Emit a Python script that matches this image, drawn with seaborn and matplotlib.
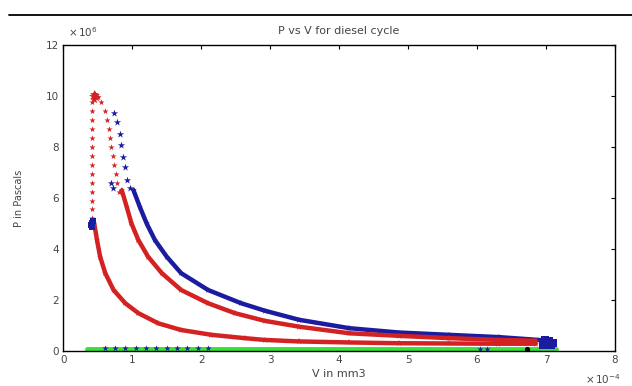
import matplotlib
matplotlib.use("Agg")
import matplotlib.pyplot as plt
import seaborn as sns

sns.set_style("white")
plt.rcParams['font.family'] = ['DejaVu Sans']

# ---- data (V in 1e-4 mm3 units, P in 1e6 Pa units) ----
red_comp_v = [0.45, 0.49, 0.535, 0.61, 0.73, 0.90, 1.09, 1.38, 1.71, 2.15, 2.63, 2.92, 3.42, 4.15, 4.87, 5.60, 6.30, 6.85]
red_comp_p = [5.00, 4.35, 3.70, 3.05, 2.39, 1.87, 1.48, 1.08, 0.82, 0.63, 0.50, 0.43, 0.37, 0.33, 0.30, 0.29, 0.28, 0.28]

red_heat_v = [0.42] * 14
red_heat_p = [5.20, 5.55, 5.90, 6.25, 6.60, 6.95, 7.30, 7.65, 8.00, 8.35, 8.70, 9.05, 9.40, 9.75]

red_peak_v = [0.44, 0.46, 0.45, 0.47, 0.43]
red_peak_p = [10.10, 10.05, 9.90, 9.95, 10.00]

red_exp_dot_v = [0.50, 0.55, 0.60, 0.63, 0.66, 0.68, 0.70, 0.72, 0.74, 0.76, 0.78, 0.81]
red_exp_dot_p = [9.95, 9.75, 9.40, 9.05, 8.70, 8.35, 8.00, 7.65, 7.30, 6.95, 6.60, 6.25]

red_exp_v = [0.85, 0.92, 0.99, 1.09, 1.23, 1.43, 1.71, 2.10, 2.49, 2.92, 3.42, 4.15, 4.87, 5.59, 6.32, 6.85]
red_exp_p = [6.30, 5.66, 5.00, 4.35, 3.70, 3.05, 2.39, 1.87, 1.48, 1.18, 0.95, 0.69, 0.59, 0.50, 0.43, 0.40]

blue_dot_v = [0.74, 0.78, 0.82, 0.84, 0.86, 0.89, 0.93, 0.97, 0.70, 0.72]
blue_dot_p = [9.35, 9.00, 8.50, 8.10, 7.60, 7.20, 6.70, 6.40, 6.60, 6.40]

blue_exp_v = [1.02, 1.11, 1.21, 1.33, 1.50, 1.71, 2.10, 2.58, 2.92, 3.42, 4.15, 4.87, 5.59, 6.32, 7.04]
blue_exp_p = [6.30, 5.66, 5.00, 4.35, 3.70, 3.05, 2.39, 1.87, 1.58, 1.22, 0.89, 0.72, 0.63, 0.54, 0.40]

blue_start_v = [0.42, 0.42, 0.43, 0.41]
blue_start_p = [4.85, 5.00, 5.10, 4.95]

blue_end_v = [6.95, 7.00, 7.05, 7.10, 6.98, 7.08]
blue_end_p = [0.22, 0.30, 0.40, 0.30, 0.42, 0.22]

blue_base_v = [0.60, 0.75, 0.90, 1.05, 1.20, 1.35, 1.50, 1.65, 1.80, 1.95, 2.10, 6.05, 6.15]
blue_base_p = [0.11, 0.11, 0.11, 0.11, 0.11, 0.11, 0.11, 0.11, 0.11, 0.11, 0.11, 0.08, 0.08]

green_v = [0.35, 7.15]
green_p = [0.08, 0.08]

black_v = [6.72]
black_p = [0.07]

x_ticks = [0, 1, 2, 3, 4, 5, 6, 7, 8]
y_ticks = [0, 2, 4, 6, 8, 10, 12]

RED = "#d42222"
BLUE = "#1c1ca0"
GREEN = "#38e038"
TXT = "#454545"

fig = plt.figure(figsize=(6.32, 3.86), dpi=100)
ax = fig.add_axes([0.1, 0.091, 0.873, 0.792])

# green baseline
sns.lineplot(x=green_v, y=green_p, ax=ax, color=GREEN, linewidth=3.5, sort=False, estimator=None, zorder=2)
sns.scatterplot(x=blue_base_v, y=blue_base_p, ax=ax, color=BLUE, marker="*", s=22, linewidth=0, zorder=3)

# blue cycle
sns.lineplot(x=blue_exp_v, y=blue_exp_p, ax=ax, color=BLUE, linewidth=3.2, sort=False, estimator=None,
             marker="*", markersize=5, markeredgewidth=0, zorder=3)
sns.scatterplot(x=blue_dot_v, y=blue_dot_p, ax=ax, color=BLUE, marker="*", s=30, linewidth=0, zorder=3)
sns.scatterplot(x=blue_start_v, y=blue_start_p, ax=ax, color=BLUE, marker="s", s=22, linewidth=0, zorder=4)
sns.scatterplot(x=blue_end_v, y=blue_end_p, ax=ax, color=BLUE, marker="s", s=30, linewidth=0, zorder=4)

# red cycle
sns.lineplot(x=red_comp_v, y=red_comp_p, ax=ax, color=RED, linewidth=3.2, sort=False, estimator=None,
             marker="*", markersize=5, markeredgewidth=0, zorder=3)
sns.lineplot(x=red_exp_v, y=red_exp_p, ax=ax, color=RED, linewidth=3.2, sort=False, estimator=None,
             marker="*", markersize=5, markeredgewidth=0, zorder=3)
sns.scatterplot(x=red_heat_v, y=red_heat_p, ax=ax, color=RED, marker="*", s=22, linewidth=0, zorder=3)
sns.scatterplot(x=red_exp_dot_v, y=red_exp_dot_p, ax=ax, color=RED, marker="*", s=22, linewidth=0, zorder=3)
sns.scatterplot(x=red_peak_v, y=red_peak_p, ax=ax, color=RED, marker="*", s=45, linewidth=0, zorder=4)

sns.scatterplot(x=black_v, y=black_p, ax=ax, color="black", marker="o", s=14, linewidth=0, zorder=5)

ax.set_xlim(0, 8)
ax.set_ylim(0, 12)
ax.set_xticks(x_ticks)
ax.set_yticks(y_ticks)
ax.set_xticklabels([str(t) for t in x_ticks])
ax.set_yticklabels([str(t) for t in y_ticks])
ax.tick_params(direction="in", length=3, width=0.8, top=True, right=True,
               labelsize=7.5, labelcolor=TXT, colors="black", pad=3)
for s in ax.spines.values():
    s.set_color("black")
    s.set_linewidth(1.0)

ax.set_xlabel("V in mm3", fontsize=8, color=TXT, labelpad=3)
ax.set_ylabel("P in Pascals", fontsize=7, color=TXT, labelpad=16)
ax.set_title("P vs V for diesel cycle", fontsize=8, color=TXT, pad=8)

fig.text(0.107, 0.9, r"$\times\,10^{6}$", fontsize=7.5, color=TXT, ha="left", va="bottom")
fig.text(0.925, 0.0, r"$\times\,10^{-4}$", fontsize=7.5, color=TXT, ha="left", va="bottom")

# horizontal rule across the top of the figure
fig.add_artist(plt.Line2D([0.015, 1.0], [0.962, 0.962], color="black", linewidth=1.3, transform=fig.transFigure))

fig.savefig("out.png", dpi=100)
